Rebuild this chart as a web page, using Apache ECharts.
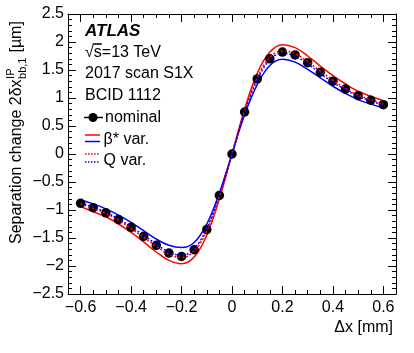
<!DOCTYPE html>
<html>
<head>
<meta charset="utf-8">
<script src="https://cdn.jsdelivr.net/npm/echarts@6/dist/echarts.min.js"></script>
<style>
html, body { margin: 0; padding: 0; background: #fff; }
#main { width: 414px; height: 353px; }
</style>
</head>
<body>
<div id="main"></div>
<script>
// scan positions in mm
var dx = [-0.6, -0.55, -0.5, -0.45, -0.4, -0.35, -0.3, -0.25, -0.2, -0.15, -0.1, -0.05, 0,
    0.05, 0.1, 0.15, 0.2, 0.25, 0.3, 0.35, 0.4, 0.45, 0.5, 0.55, 0.6];
// nominal separation change (um)
var nominal = [-0.88, -0.96, -1.05, -1.17, -1.31, -1.47, -1.63, -1.77, -1.83, -1.71, -1.35, -0.74, 0,
    0.75, 1.34, 1.70, 1.82, 1.77, 1.63, 1.46, 1.30, 1.16, 1.04, 0.96, 0.88];
// beta* variations
var betaUp = [-0.94, -1.03, -1.12, -1.25, -1.40, -1.57, -1.75, -1.90, -1.96, -1.84, -1.45, -0.80, 0,
    0.80, 1.44, 1.82, 1.95, 1.90, 1.75, 1.57, 1.40, 1.25, 1.12, 1.03, 0.95];
var betaDown = [-0.82, -0.89, -0.98, -1.09, -1.22, -1.37, -1.52, -1.63, -1.67, -1.58, -1.25, -0.69, 0,
    0.70, 1.24, 1.58, 1.69, 1.64, 1.51, 1.36, 1.21, 1.08, 0.97, 0.89, 0.82];
// Q variations
var qUp = [-0.89, -0.97, -1.06, -1.18, -1.33, -1.49, -1.65, -1.79, -1.85, -1.73, -1.37, -0.75, 0,
    0.76, 1.36, 1.72, 1.84, 1.79, 1.65, 1.48, 1.32, 1.17, 1.05, 0.97, 0.89];
var qDown = [-0.87, -0.95, -1.04, -1.16, -1.30, -1.45, -1.61, -1.75, -1.81, -1.69, -1.33, -0.73, 0,
    0.74, 1.32, 1.68, 1.80, 1.75, 1.61, 1.44, 1.28, 1.15, 1.03, 0.95, 0.87];
// x axis ticks
var xMajor = [-0.6, -0.4, -0.2, 0, 0.2, 0.4, 0.6];
var xMinor = [-0.65, -0.55, -0.5, -0.45, -0.35, -0.3, -0.25, -0.15, -0.1, -0.05,
    0.05, 0.1, 0.15, 0.25, 0.3, 0.35, 0.45, 0.5, 0.55, 0.65];
var infoLines = ['2017 scan S1X', 'BCID 1112'];

var FONT = '"Liberation Sans", Arial, Helvetica, sans-serif';

function pairs(ys) {
    return dx.map(function (x, i) { return [x, ys[i]]; });
}
function minus(v) {
    return String(v).replace('-', '\u2212');
}

var ctx = document.createElement('canvas').getContext('2d');
function textWidth(str, size) {
    ctx.font = size + 'px ' + FONT;
    return ctx.measureText(str).width;
}

function txt(x, y, text, size, opt) {
    opt = opt || {};
    return {
        type: 'text', x: x, y: y, rotation: opt.rotation || 0, z: 100,
        style: {
            text: text,
            font: (opt.weight || '') + ' ' + size + 'px ' + FONT,
            fill: opt.color || '#000',
            align: opt.align || 'left',
            textAlign: opt.align || 'left',
            verticalAlign: 'middle',
            textVerticalAlign: 'middle'
        }
    };
}
function seg(x1, y1, x2, y2, color, dash) {
    return {
        type: 'line', z: 100,
        shape: { x1: x1, y1: y1, x2: x2, y2: y2 },
        style: { stroke: color, lineWidth: 1.5, lineDash: dash || null }
    };
}

// y axis title, rotated, with sub/superscript
var titleBase = 244;
var mainTxt = 'Separation change 2\u03b4x';
var mainW = textWidth(mainTxt, 16);
var scriptW = Math.max(textWidth('IP', 11), textWidth('bb,1', 11));
var yTitle = [
    txt(17, titleBase, mainTxt, 16, { rotation: Math.PI / 2 }),
    txt(11, titleBase - mainW - 0.5, 'IP', 11, { rotation: Math.PI / 2 }),
    txt(23, titleBase - mainW - 0.5, 'bb,1', 11, { rotation: Math.PI / 2 }),
    txt(17, titleBase - mainW - scriptW - 1, ' [\u00b5m]', 16, { rotation: Math.PI / 2 })
];

var sqrtW = textWidth('\u221a', 16);
var sW = textWidth('\u221as', 16);

var graphics = yTitle.concat([
    txt(85, 31, 'ATLAS', 17, { weight: 'italic bold' }),
    txt(85, 52.5, '\u221as=13 TeV', 16),
    seg(85 + sqrtW - 1, 44, 85 + sW, 44, '#000'),
    txt(85, 74, infoLines[0], 16),
    txt(85, 95.5, infoLines[1], 16),
    // legend
    seg(84, 117.5, 103, 117.5, '#000'),
    { type: 'circle', z: 100, shape: { cx: 93, cy: 117.5, r: 4.5 }, style: { fill: '#000' } },
    txt(105, 118, 'nominal', 16),
    seg(85, 135, 100, 135, '#ff0000'),
    seg(85, 141.5, 100, 141.5, '#0000ff'),
    txt(103.5, 139.5, '\u03b2* var.', 16),
    seg(85, 154, 100, 154, '#ff0000', [1.5, 1.5]),
    seg(85, 162, 100, 162, '#0000ff', [1.5, 1.5]),
    txt(103.5, 161, 'Q var.', 16),
    // x axis title
    txt(393, 328, '\u0394x [mm]', 16, { align: 'right' })
]);

function xAxisDef(pos, ticks, len, showLabel, showLine) {
    return {
        type: 'value', position: pos, min: -0.65, max: 0.65,
        axisLine: { show: showLine, onZero: false, lineStyle: { color: '#000', width: 1 } },
        axisTick: { inside: true, length: len, customValues: ticks, lineStyle: { color: '#000' } },
        axisLabel: {
            show: showLabel, customValues: ticks, margin: 6,
            color: '#000', fontSize: 16, fontFamily: FONT,
            formatter: minus
        },
        splitLine: { show: false }
    };
}
function yAxisDef(pos, showLabel) {
    return {
        type: 'value', position: pos, min: -2.5, max: 2.5, interval: 0.5,
        axisLine: { show: true, onZero: false, lineStyle: { color: '#000', width: 1 } },
        axisTick: { inside: true, length: 8, lineStyle: { color: '#000' } },
        minorTick: { show: true, splitNumber: 5, length: 4, lineStyle: { color: '#000' } },
        axisLabel: {
            show: showLabel, margin: 4, color: '#000', fontSize: 16, fontFamily: FONT,
            formatter: minus
        },
        splitLine: { show: false }
    };
}

var chart = echarts.init(document.getElementById('main'), null, { renderer: 'canvas' });
chart.setOption({
    animation: false,
    backgroundColor: '#fff',
    grid: { left: 68, right: 18, top: 14, bottom: 59 },
    xAxis: [
        xAxisDef('bottom', xMajor, 8, true, true),
        xAxisDef('bottom', xMinor, 4, false, false),
        xAxisDef('top', xMajor, 8, false, true),
        xAxisDef('top', xMinor, 4, false, false)
    ],
    yAxis: [yAxisDef('left', true), yAxisDef('right', false)],
    graphic: graphics,
    series: [
        {
            name: 'beta up', type: 'line', data: pairs(betaUp), smooth: 0.4,
            showSymbol: false, lineStyle: { color: '#ff0000', width: 1.5 }, z: 2
        },
        {
            name: 'beta down', type: 'line', data: pairs(betaDown), smooth: 0.4,
            showSymbol: false, lineStyle: { color: '#0000ff', width: 1.5 }, z: 2
        },
        {
            name: 'nominal', type: 'scatter', data: pairs(nominal),
            symbol: 'circle', symbolSize: 9.5, itemStyle: { color: '#000', opacity: 1 }, z: 3
        },
        {
            name: 'Q up', type: 'line', data: pairs(qUp), smooth: 0.4, showSymbol: false,
            lineStyle: { color: '#ff0000', width: 1.5, type: [2, 2] }, z: 4
        },
        {
            name: 'Q down', type: 'line', data: pairs(qDown), smooth: 0.4, showSymbol: false,
            lineStyle: { color: '#0000ff', width: 1.5, type: [2, 2] }, z: 4
        }
    ]
});
</script>
</body>
</html>
